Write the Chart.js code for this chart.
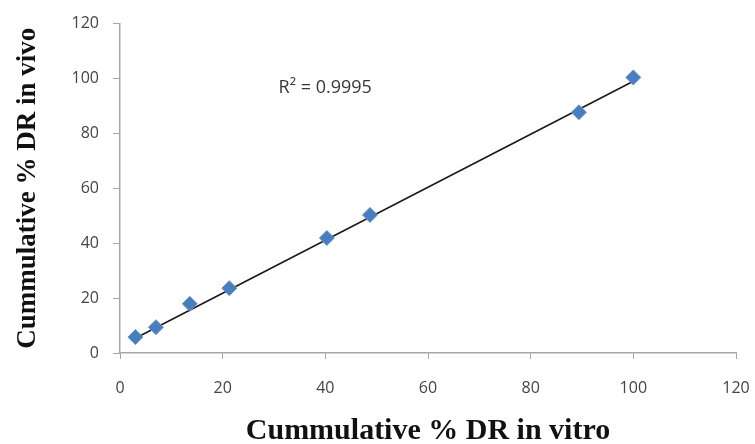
<!DOCTYPE html>
<html>
<head>
<meta charset="utf-8">
<script src="https://cdn.jsdelivr.net/npm/chart.js@4"></script>
<style>
  html, body { margin: 0; padding: 0; background: #fff; }
  #wrap { width: 755px; height: 444px; }
</style>
</head>
<body>
<div id="wrap"><canvas id="chart" width="755" height="444"></canvas></div>
<script>
// values
const inVitro = [3, 7, 13.6, 21.3, 40.3, 48.7, 89.4, 100];
const inVivo = [5.8, 9.4, 17.9, 23.6, 41.9, 50.3, 87.7, 100.4];
// trendline end points (as drawn)
const trendX = [3, 100];
const trendY = [5.4, 99.0];
const xTicks = [0, 20, 40, 60, 80, 100, 120];
const yTicks = [0, 20, 40, 60, 80, 100, 120];
const r2Label = 'R\u00b2 = 0.9995';

const points = inVitro.map((x, i) => ({ x: x, y: inVivo[i] }));
const trend = trendX.map((x, i) => ({ x: x, y: trendY[i] }));

// R² text near the top of the plot
const r2Plugin = {
  id: 'r2',
  afterDatasetsDraw(chart) {
    const { ctx, scales } = chart;
    ctx.save();
    ctx.font = '18px "Open Sans", sans-serif';
    ctx.fillStyle = '#383838';
    ctx.textBaseline = 'middle';
    ctx.fillText(r2Label, scales.x.getPixelForValue(30.9), scales.y.getPixelForValue(96.5));
    ctx.restore();
  }
};

const tickFont = { family: '"Open Sans", sans-serif', size: 16 };
const xTitleFont = { family: '"Liberation Serif", "Times New Roman", serif', size: 30, weight: 'bold' };
const yTitleFont = { family: '"Liberation Serif", "Times New Roman", serif', size: 27, weight: 'bold' };

new Chart(document.getElementById('chart'), {
  type: 'scatter',
  data: {
    datasets: [
      {
        label: 'trend',
        data: trend,
        showLine: true,
        borderColor: '#1a1a1a',
        borderWidth: 1.6,
        pointRadius: 0,
        order: 2
      },
      {
        label: 'data',
        data: points,
        pointStyle: 'rectRot',
        pointRadius: 7.5,
        backgroundColor: '#4a7ebb',
        borderColor: '#6a93c8',
        borderWidth: 1,
        order: 1
      }
    ]
  },
  options: {
    responsive: false,
    animation: false,
    devicePixelRatio: 1,
    layout: { padding: { top: 22, right: 0, left: 0, bottom: 0 } },
    plugins: {
      legend: { display: false },
      tooltip: { enabled: false }
    },
    scales: {
      x: {
        type: 'linear',
        min: 0, max: 120,
        afterBuildTicks: s => { s.ticks = xTicks.map(v => ({ value: v })); },
        afterFit: s => { s.height = 91; s.paddingRight = 19; s.paddingLeft = 0; },
        border: { color: '#a6a6a6', width: 1.5 },
        grid: { drawOnChartArea: false, drawTicks: true, tickLength: 6, color: '#a6a6a6' },
        ticks: { font: tickFont, color: '#444444', padding: 20, maxRotation: 0 },
        title: { display: true, text: 'Cummulative % DR in vitro', font: xTitleFont, color: '#111', padding: { top: 0, bottom: -5 } }
      },
      y: {
        type: 'linear',
        min: 0, max: 120,
        afterBuildTicks: s => { s.ticks = yTicks.map(v => ({ value: v })); },
        afterFit: s => { s.width = 120; },
        border: { color: '#a6a6a6', width: 1.5 },
        grid: { drawOnChartArea: false, drawTicks: true, tickLength: 7, color: '#a6a6a6' },
        ticks: { font: tickFont, color: '#444444', padding: 14 },
        title: { display: true, text: 'Cummulative % DR in vivo', font: yTitleFont, color: '#111', padding: { top: 12, bottom: 0 } }
      }
    }
  },
  plugins: [r2Plugin]
});
</script>
</body>
</html>
